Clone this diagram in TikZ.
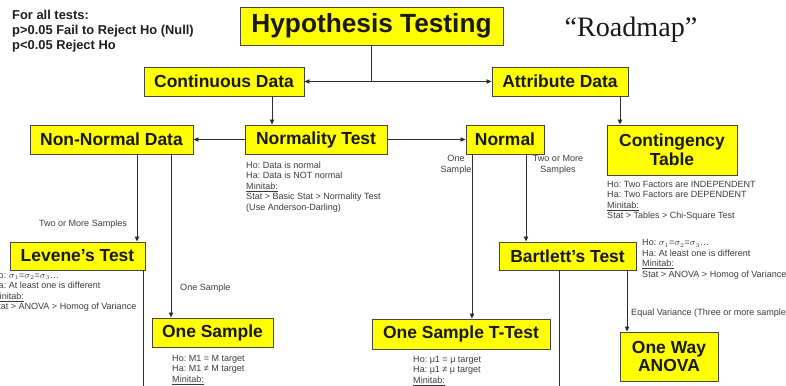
\documentclass[tikz,border=0pt]{standalone}
\usepackage{fontspec}
\setmainfont{Liberation Sans}
\newfontfamily\roadserif{Liberation Serif}
\usetikzlibrary{arrows.meta, calc}
\definecolor{boxyellow}{RGB}{255,255,0}
\definecolor{edgegray}{RGB}{70,70,70}
\definecolor{linegray}{RGB}{45,45,45}
\definecolor{notegray}{RGB}{60,60,60}
\frenchspacing
\tikzset{
    bigbox/.style={rectangle, draw=edgegray, line width=0.8pt, fill=boxyellow,
                   align=center, inner sep=0pt, text=black!90,
                   font=\fontsize{14.9}{16}\selectfont\bfseries},
    titlebox/.style={bigbox, font=\fontsize{22.4}{24}\selectfont\bfseries},
    note/.style={align=left, inner sep=0pt, anchor=west, text=notegray,
                 font=\fontsize{7.7}{9}\selectfont},
    sidelabel/.style={align=center, inner sep=0pt, text=notegray,
                      font=\fontsize{7.7}{9}\selectfont},
    flow/.style={-{Triangle[length=1.5mm, width=1.3mm]}, line width=0.7pt, linegray},
    link/.style={line width=0.7pt, linegray}
}

\begin{document}
\begin{tikzpicture}[x=0.3mm, y=-0.3mm]
    \clip (0,0) rectangle (786,385);
    \fill[white] (0,0) rectangle (786,385);
    % top row
    \node[titlebox, minimum width=78.9mm, minimum height=11.4mm] (ht) at (371.5,26) {Hypothesis Testing};
    \node[inner sep=0pt, font=\fontsize{24}{26}\roadserif, text=black!90] (road) at (631,30) {“Roadmap”};
    \node[inner sep=0pt, anchor=west, align=left, text=black!88,
          font=\fontsize{11}{12.8}\selectfont\bfseries] (rule) at (12,31) {For all tests:\\p>0.05 Fail to Reject Ho (Null)\\p<0.05 Reject Ho};
    \node[bigbox, minimum width=48mm, minimum height=8.7mm] (cd) at (224,81.5) {Continuous Data};
    \node[bigbox, minimum width=40.8mm, minimum height=8.7mm] (ad) at (560,81.5) {Attribute Data};
    % second row
    \node[bigbox, minimum width=48.9mm, minimum height=8.7mm] (nn) at (111.5,139.5) {Non-Normal Data};
    \node[bigbox, minimum width=42.6mm, minimum height=8.7mm] (nt) at (316,139.5) {Normality Test};
    \node[bigbox, minimum width=23.4mm, minimum height=8.7mm] (nm) at (505,139.5) {Normal};
    \node[bigbox, minimum width=39mm, minimum height=15mm] (ct) at (672,150) {Contingency\\Table};
    % third row
    \node[bigbox, minimum width=40.5mm, minimum height=8.4mm] (lv) at (77.5,256) {Levene’s Test};
    \node[bigbox, minimum width=41.1mm, minimum height=8.4mm] (bt) at (567.5,256) {Bartlett’s Test};
    % bottom row
    \node[bigbox, minimum width=36.3mm, minimum height=8.7mm] (os) at (212.5,332.5) {One Sample};
    \node[bigbox, minimum width=53.4mm, minimum height=9mm] (ot) at (461,334) {One Sample T-Test};
    \node[bigbox, minimum width=29.4mm, minimum height=14.7mm] (oa) at (669,356.5) {One Way\\ANOVA};
    % notes under the boxes
    \node[note] (ntnote) at (246,187) {Ho: Data is normal\\Ha: Data is NOT normal\\\underline{Minitab:}\\Stat > Basic Stat > Normality Test\\(Use Anderson-Darling)};
    \node[note] (ctnote) at (607,201) {Ho: Two Factors are INDEPENDENT\\Ha: Two Factors are DEPENDENT\\\underline{Minitab:}\\Stat > Tables > Chi-Square Test};
    \node[note] (lvnote) at (-8,292) {Ho: $\sigma_1$=$\sigma_2$=$\sigma_3$\ldots\\Ha: At least one is different\\\underline{Minitab:}\\Stat > ANOVA > Homog of Variance};
    \node[note] (btnote) at (642,259.5) {Ho: $\sigma_1$=$\sigma_2$=$\sigma_3$\ldots\\Ha: At least one is different\\\underline{Minitab:}\\Stat > ANOVA > Homog of Variance};
    \node[note] (osnote) at (172,370) {Ho: M1 = M target\\Ha: M1 ≠ M target\\\underline{Minitab:}};
    \node[note] (otnote) at (413,371) {Ho: μ1 = μ target\\Ha: μ1 ≠ μ target\\\underline{Minitab:}};
    % branch labels
    \node[sidelabel] (twolv) at (83,224) {Two or More Samples};
    \node[sidelabel, anchor=west] (onenn) at (180,288) {One Sample};
    \node[sidelabel] (onenm) at (456,165) {One\\Sample};
    \node[sidelabel] (twonm) at (558,165) {Two or More\\Samples};
    \node[sidelabel, anchor=west] (eqvar) at (631,313) {Equal Variance (Three or more samples)};
    % lines leaving the picture
    \coordinate (lvout) at (143,390);
    \coordinate (btout) at (559,390);
    % connectors
    \draw[flow] (ht.south) |- (cd.east);
    \draw[flow] (ht.south) |- (ad.west);
    \draw[flow] ($(cd.south)+(48,0)$) -- ($(nt.north)+(-44,0)$);
    \draw[flow] ($(ad.south)+(60,0)$) -- ($(ct.north)+(-52,0)$);
    \draw[flow] (nt.west) -- (nn.east);
    \draw[flow] (nt.east) -- (nm.west);
    \draw[flow] ($(nn.south)+(25.5,0)$) -- ($(lv.north)+(59.5,0)$);
    \draw[flow] ($(nn.south)+(59.5,0)$) -- ($(os.north)+(-41.5,0)$);
    \draw[link] ($(lv.south)+(65.5,0)$) -- (lvout);
    \draw[flow] ($(nm.south)+(-33,0)$) -- ($(ot.north)+(11,0)$);
    \draw[flow] ($(nm.south)+(21,0)$) -- ($(bt.north)+(-41.5,0)$);
    \draw[link] ($(bt.south)+(-8.5,0)$) -- (btout);
    \draw[flow] ($(bt.south)+(59.5,0)$) -- ($(oa.north)+(-42,0)$);
\end{tikzpicture}
\end{document}
